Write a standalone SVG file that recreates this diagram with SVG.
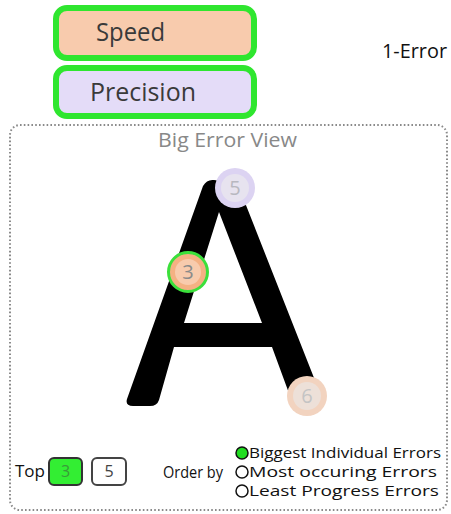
<svg xmlns="http://www.w3.org/2000/svg" width="451" height="514" viewBox="0 0 451 514">
<style>
text{font-family:"Open Sans","Liberation Sans",Arial,sans-serif}
.btn{stroke:#2fe62f;stroke-width:6}
.big{font-size:25px;fill:#3a3a3a}
.lbl{font-size:15px;fill:#111}
.num{font-size:20px;text-anchor:middle}
.radio{stroke:#111;stroke-width:1.5;fill:#fff}
</style>
<rect width="451" height="514" fill="#fff"/>
<g id="speed">
<rect class="btn" x="56" y="8" width="198" height="50" rx="11" fill="#f8cbad"/>
<text class="big" x="96" y="41" textLength="69" lengthAdjust="spacingAndGlyphs">Speed</text>
</g>
<g id="precision">
<rect class="btn" x="56" y="68" width="198" height="48" rx="11" fill="#e4dcf8"/>
<text class="big" x="90" y="101" textLength="106" lengthAdjust="spacingAndGlyphs">Precision</text>
</g>
<g id="one-error">
<text x="382" y="58" font-size="20" fill="#111" textLength="65" lengthAdjust="spacingAndGlyphs">1-Error</text>
</g>
<g id="big-error-view">
<rect x="10" y="125" width="437" height="385" rx="10" fill="none" stroke="#8a8a8a" stroke-width="2" stroke-dasharray="1.6 2.2"/>
<text x="158" y="147" font-size="20" fill="#888" textLength="139" lengthAdjust="spacingAndGlyphs">Big Error View</text>
<path id="letter-a" fill="#000" fill-rule="evenodd" d="M127,399 L203,186 Q207,179 214,180 L236,183 L240,190 L318,388 L314,396 L290,396 L272,347 L174,347 L159,400 Q157,406 150,406 L133,406 Q125,406 127,399 Z M219,212 L262,323 L184,323 Z"/>
<g id="err5">
<circle cx="235" cy="188" r="20" fill="#dcd3f2"/>
<circle cx="235" cy="188" r="14" fill="#e7e3ef"/>
<text class="num" x="235" y="195" fill="#b8b8c0">5</text>
</g>
<g id="err3">
<circle cx="188" cy="272" r="19.5" fill="#f4b183" stroke="#3be03b" stroke-width="3"/>
<circle cx="188" cy="272" r="13" fill="#f8cbad"/>
<text class="num" x="188" y="279" fill="#8a8a8a">3</text>
</g>
<g id="err6">
<circle cx="307" cy="396" r="20" fill="#f2d3bf"/>
<circle cx="307" cy="396" r="14" fill="#ede0d8"/>
<text class="num" x="307" y="403" fill="#c4c4c4">6</text>
</g>
<g id="top-select">
<text class="lbl" x="15" y="477" font-size="16" style="font-size:16px" textLength="30" lengthAdjust="spacingAndGlyphs">Top</text>
<rect x="49" y="458" width="33" height="27" rx="5" fill="#33ee33" stroke="#333" stroke-width="2"/>
<text x="65.5" y="477" font-size="16" text-anchor="middle" fill="#3a9a3a">3</text>
<rect x="92" y="458" width="34" height="27" rx="5" fill="#fff" stroke="#444" stroke-width="2"/>
<text x="109" y="477" font-size="16" text-anchor="middle" fill="#444">5</text>
</g>
<g id="order-by">
<text class="lbl" x="163" y="478" style="font-size:16px" textLength="60" lengthAdjust="spacingAndGlyphs">Order by</text>
<circle class="radio" cx="242" cy="453" r="6" style="fill:#22dd22"/>
<circle class="radio" cx="242" cy="472" r="6"/>
<circle class="radio" cx="242" cy="491" r="6"/>
<text class="lbl" x="249" y="458" textLength="192" lengthAdjust="spacingAndGlyphs">Biggest Individual Errors</text>
<text class="lbl" x="249" y="477" textLength="188" lengthAdjust="spacingAndGlyphs">Most occuring Errors</text>
<text class="lbl" x="249" y="496" textLength="190" lengthAdjust="spacingAndGlyphs">Least Progress Errors</text>
</g>
</g>
</svg>
